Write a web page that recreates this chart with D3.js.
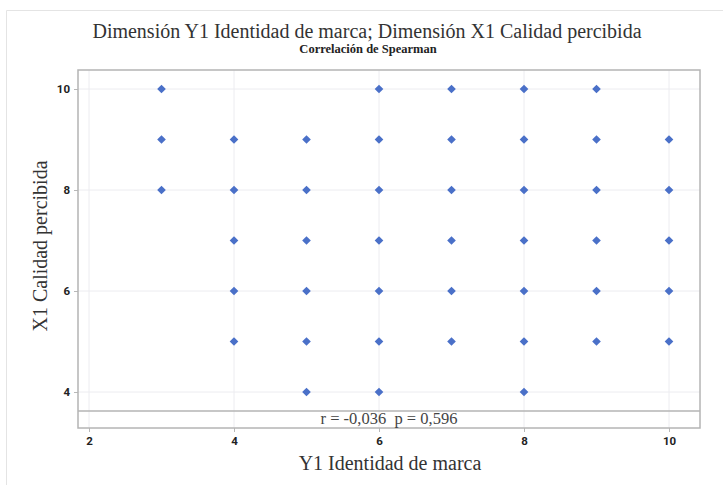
<!DOCTYPE html>
<html>
<head>
<meta charset="utf-8">
<script src="https://cdn.jsdelivr.net/npm/d3@7"></script>
<style>
  body { margin: 0; background: #fff; }
  svg { display: block; }
</style>
</head>
<body>
<div id="chart"></div>
<script>
// valores (Y1 en el eje x, X1 en el eje y)
const xValues = [3, 3, 3,
    4, 4, 4, 4, 4,
    5, 5, 5, 5, 5, 5,
    6, 6, 6, 6, 6, 6, 6,
    7, 7, 7, 7, 7, 7,
    8, 8, 8, 8, 8, 8, 8,
    9, 9, 9, 9, 9, 9,
    10, 10, 10, 10, 10]
const yValues = [10, 9, 8,
    9, 8, 7, 6, 5,
    9, 8, 7, 6, 5, 4,
    10, 9, 8, 7, 6, 5, 4,
    10, 9, 8, 7, 6, 5,
    10, 9, 8, 7, 6, 5, 4,
    10, 9, 8, 7, 6, 5,
    9, 8, 7, 6, 5]
const xTicks = [2, 4, 6, 8, 10]
const yTicks = [4, 6, 8, 10]
const title = 'Dimensión Y1 Identidad de marca; Dimensión X1 Calidad percibida'
const subtitle = 'Correlación de Spearman'
const xLabel = 'Y1 Identidad de marca'
const yLabel = 'X1 Calidad percibida'
const statText = 'r = -0,036  p = 0,596'

const W = 723, H = 485
const plot = { left: 78, top: 70, right: 700, bottom: 411 }
const frameBottom = 428
const serif = '"Liberation Serif", "Times New Roman", serif'

const svg = d3.select('#chart')
    .append('svg')
    .attr('width', W)
    .attr('height', H)

// marco exterior
svg.append('path')
    .attr('d', `M6.5,${H} V10.5 H${W}`)
    .attr('fill', 'none')
    .attr('stroke', '#e4e4e4')
    .attr('stroke-width', 1)

const xScale = d3.scaleLinear().domain([2, 10]).range([89, 669])
const yScale = d3.scaleLinear().domain([4, 10]).range([392, 89])

// grid
svg.append('g')
    .selectAll('line')
    .data(xTicks)
    .join('line')
    .attr('x1', d => xScale(d)).attr('x2', d => xScale(d))
    .attr('y1', plot.top).attr('y2', frameBottom)
    .attr('stroke', '#ececf0')
    .attr('stroke-width', 1)

svg.append('g')
    .selectAll('line')
    .data(yTicks)
    .join('line')
    .attr('x1', plot.left).attr('x2', plot.right)
    .attr('y1', d => yScale(d)).attr('y2', d => yScale(d))
    .attr('stroke', '#ececf0')
    .attr('stroke-width', 1)

// axes
const xaxis = d3.axisBottom(xScale).tickValues(xTicks).tickFormat(d3.format('d')).tickSize(4).tickPadding(5)
const yaxis = d3.axisLeft(yScale).tickValues(yTicks).tickFormat(d3.format('d')).tickSize(4).tickPadding(4)

const gx = svg.append('g')
    .attr('transform', 'translate(0,' + frameBottom + ')')
    .call(xaxis)
const gy = svg.append('g')
    .attr('transform', 'translate(' + plot.left + ',0)')
    .call(yaxis)

for (const g of [gx, gy]) {
    g.select('.domain').remove()
    g.selectAll('line').attr('stroke', '#b8b8b8')
    g.selectAll('text')
        .attr('fill', '#222')
        .style('font-family', 'Roboto, Arial, sans-serif')
        .style('font-weight', 'bold')
        .style('font-size', '11.5px')
}

// marco del grafico
svg.append('rect')
    .attr('x', plot.left)
    .attr('y', plot.top)
    .attr('width', plot.right - plot.left)
    .attr('height', frameBottom - plot.top)
    .attr('fill', 'none')
    .attr('stroke', '#b4b4b4')
    .attr('stroke-width', 1.5)

svg.append('line')
    .attr('x1', plot.left).attr('x2', plot.right)
    .attr('y1', plot.bottom).attr('y2', plot.bottom)
    .attr('stroke', '#b4b4b4')
    .attr('stroke-width', 1.5)

// puntos
const diamond = d3.symbol().type(d3.symbolDiamond2).size(48)
svg.append('g')
    .selectAll('path')
    .data(xValues.map((x, i) => ({ x: x, y: yValues[i] })))
    .join('path')
    .attr('transform', d => `translate(${xScale(d.x)},${yScale(d.y)})`)
    .attr('d', diamond)
    .attr('fill', '#4a70c8')

// textos
svg.append('text')
    .attr('x', 367)
    .attr('y', 38)
    .attr('text-anchor', 'middle')
    .style('font-family', serif)
    .style('font-size', '20px')
    .attr('fill', '#333')
    .text(title)

svg.append('text')
    .attr('x', 368)
    .attr('y', 53)
    .attr('text-anchor', 'middle')
    .style('font-family', serif)
    .style('font-weight', 'bold')
    .style('font-size', '12.5px')
    .attr('fill', '#222')
    .text(subtitle)

svg.append('text')
    .attr('x', 389)
    .attr('y', 424)
    .attr('text-anchor', 'middle')
    .style('font-family', serif)
    .style('font-size', '16.5px')
    .style('white-space', 'pre')
    .attr('fill', '#444')
    .text(statText)

svg.append('text')
    .attr('x', 390)
    .attr('y', 470)
    .attr('text-anchor', 'middle')
    .style('font-family', serif)
    .style('font-size', '20px')
    .attr('fill', '#333')
    .text(xLabel)

svg.append('text')
    .attr('transform', 'translate(47,' + 246 + ') rotate(-90)')
    .attr('text-anchor', 'middle')
    .style('font-family', serif)
    .style('font-size', '20px')
    .attr('fill', '#333')
    .text(yLabel)
</script>
</body>
</html>
